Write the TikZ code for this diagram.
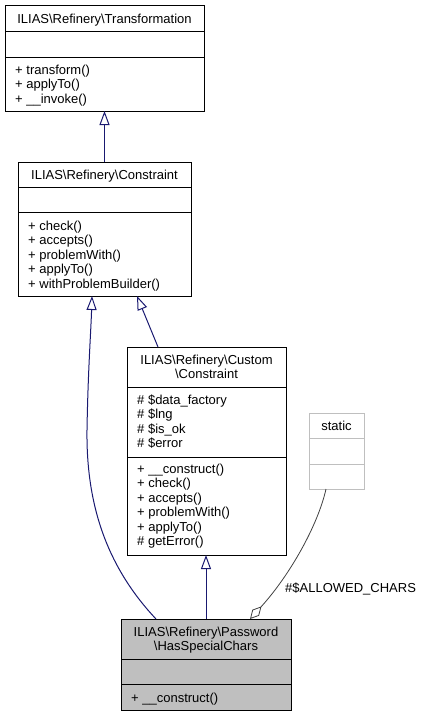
\documentclass[tikz,border=0pt]{standalone}
\usepackage{fontspec}
\setmainfont{Liberation Sans}
\usetikzlibrary{arrows.meta,calc}
\definecolor{edgeblue}{HTML}{191970}
\definecolor{boxgray}{HTML}{BFBFBF}
\definecolor{aggcol}{HTML}{404040}
\begin{document}
\begin{tikzpicture}[x=1pt,y=-1pt,
 box/.style={draw=black,line width=1pt,anchor=north west,inner sep=0pt,outer sep=0pt},
 txt/.style={anchor=north west,inner sep=0pt,yshift=-1.5pt,align=left,font=\fontsize{13}{14.5}\selectfont},
 ttl/.style={anchor=north,inner sep=0pt,yshift=-1.5pt,align=center,font=\fontsize{13}{14.5}\selectfont},
 sep/.style={line width=1pt},
 inh/.style={draw=edgeblue,line width=1pt,-{Triangle[open,length=14pt,width=10pt]}},
 aggr/.style={draw=aggcol,line width=0.8pt,-{Diamond[length=17pt,width=9pt,fill=white]}}
]
\useasboundingbox (0,0) rectangle (425,716);

% Transformation
\node[box,minimum width=199pt,minimum height=106pt] (trans) at (5,5) {};
\draw[sep] (5,31) -- (204,31);
\draw[sep] (5,57) -- (204,57);
\node[ttl] (transT) at (104.5,11.35) {\strut ILIAS\textbackslash Refinery\textbackslash Transformation};
\node[txt] (transM) at (15,62.35) {\strut + transform()\\+ applyTo()\\+ \_\_invoke()};

% Constraint
\node[box,minimum width=173pt,minimum height=134pt] (con) at (18,162) {};
\draw[sep] (18,187) -- (191,187);
\draw[sep] (18,212) -- (191,212);
\node[ttl] (conT) at (104.5,167.35) {\strut ILIAS\textbackslash Refinery\textbackslash Constraint};
\node[txt] (conM) at (28,218.35) {\strut + check()\\+ accepts()\\+ problemWith()\\+ applyTo()\\+ withProblemBuilder()};

% Custom Constraint
\node[box,minimum width=159pt,minimum height=208pt] (cu) at (127,347) {};
\draw[sep] (127,387) -- (286,387);
\draw[sep] (127,457) -- (286,457);
\node[ttl] (cuT) at (206.5,352.35) {\strut ILIAS\textbackslash Refinery\textbackslash Custom\\\textbackslash Constraint};
\node[txt] (cuA) at (137,392.35) {\strut \# \$data\_factory\\\# \$lng\\\# \$is\_ok\\\# \$error};
\node[txt] (cuM) at (137,461.35) {\strut + \_\_construct()\\+ check()\\+ accepts()\\+ problemWith()\\+ applyTo()\\\# getError()};

% static
\node[box,draw=boxgray,minimum width=55pt,minimum height=76pt] (st) at (309,413) {};
\draw[sep,boxgray] (309,438) -- (364,438);
\draw[sep,boxgray] (309,464) -- (364,464);
\node[ttl] (stT) at (336.5,418.35) {\strut static};

% HasSpecialChars
\node[box,fill=boxgray,minimum width=170pt,minimum height=91pt] (hsc) at (121,619) {};
\draw[sep] (121,659) -- (291,659);
\draw[sep] (121,684) -- (291,684);
\node[ttl] (hscT) at (206,624.35) {\strut ILIAS\textbackslash Refinery\textbackslash Password\\\textbackslash HasSpecialChars};
\node[txt] (hscM) at (131,690.35) {\strut + \_\_construct()};

% edges
\draw[inh] (con.north) -- (trans.south);
\draw[inh] ($(cu.north west)+(31,0)$) -- ($(con.south west)+(119,0)$);
\draw[inh] ($(hsc.north west)+(35,0)$) .. controls (110,570) and (86,510) .. (87,430) .. controls (88,370) and (91,330) .. ($(con.south west)+(74,0)$);
\draw[inh] (hsc.north) -- (hsc.north |- cu.south);
\draw[aggr] ($(st.south west)+(17,0)$) .. controls (318,525) and (290,575) .. ($(hsc.north west)+(129,0)$);
\node[txt] (lbl) at (285,580.35) {\strut \#\$ALLOWED\_CHARS};
\end{tikzpicture}
\end{document}
